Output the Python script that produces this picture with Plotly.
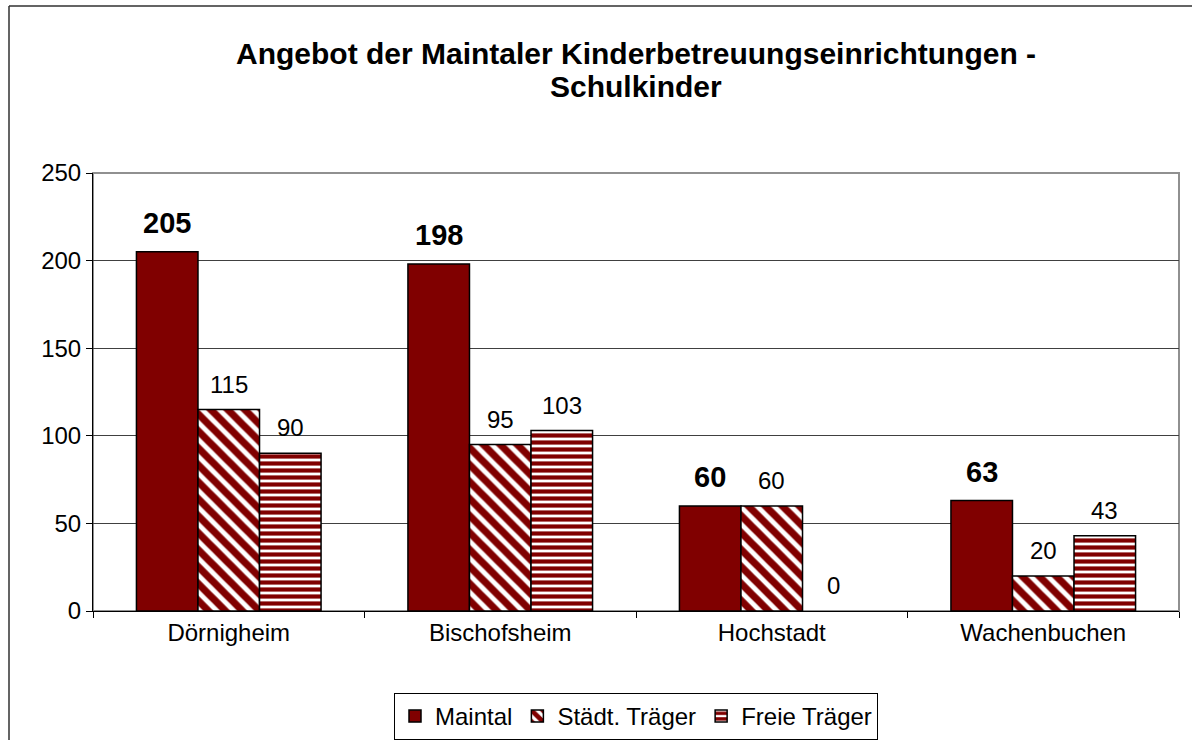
import plotly.graph_objects as go

categories = ["Dörnigheim", "Bischofsheim", "Hochstadt", "Wachenbuchen"]
maintal = [205, 198, 60, 63]
staedt = [115, 95, 60, 20]
freie = [90, 103, 0, 43]
series_names = ["Maintal", "Städt. Träger", "Freie Träger"]
y_ticks = [0, 50, 100, 150, 200, 250]
title_lines = ["Angebot der Maintaler Kinderbetreuungseinrichtungen -", "Schulkinder"]

DARK = "#800000"
FONT = "Liberation Sans, Arial, sans-serif"
BARGAP = 0.32

# plot geometry in pixels
L, R, T, B = 93, 1179, 173, 611
W, H = R - L, B - T


def px(xp):
    return (xp - L) / W


def py(yp):
    return (B - yp) / H


def outline(vals):
    return [1.5 if v > 0 else 0 for v in vals]


fig = go.Figure()
fig.add_trace(go.Bar(
    name=series_names[0], x=categories, y=maintal,
    marker=dict(color=DARK, line=dict(color="#000000", width=outline(maintal))),
))
fig.add_trace(go.Bar(
    name=series_names[1], x=categories, y=staedt,
    marker=dict(color="#ffffff", line=dict(color="#000000", width=outline(staedt)),
                pattern=dict(shape="\\", fgcolor=DARK, fgopacity=1,
                             size=12, solidity=0.6, fillmode="overlay")),
))
fig.add_trace(go.Bar(
    name=series_names[2], x=categories, y=freie,
    marker=dict(color="#ffffff", line=dict(color="#000000", width=outline(freie)),
                pattern=dict(shape="-", fgcolor=DARK, fgopacity=1,
                             size=7, solidity=0.6, fillmode="overlay")),
))

# value labels
w = (1 - BARGAP) / 3
annotations = []
for j, vals in enumerate([maintal, staedt, freie]):
    for i, v in enumerate(vals):
        annotations.append(dict(
            x=i + (j - 1) * w, y=v, xref="x", yref="y",
            text=f"<b>{v}</b>" if j == 0 else str(v),
            showarrow=False, yanchor="bottom", yshift=11 if j == 0 else 10,
            font=dict(family=FONT, size=29 if j == 0 else 24, color="#000000"),
        ))

# title as two lines (tighter line spacing)
for line, ypx in zip(title_lines, [53, 87]):
    annotations.append(dict(
        x=0.5, xref="paper", xanchor="center",
        y=py(ypx), yref="paper", yanchor="middle",
        text=f"<b>{line}</b>", showarrow=False,
        font=dict(family=FONT, size=30, color="#000000"),
    ))

shapes = [
    dict(type="line", xref="paper", yref="paper", x0=px(9), x1=px(1200), y0=py(6), y1=py(6),
         line=dict(color="#303030", width=1.5)),
    dict(type="line", xref="paper", yref="paper", x0=px(9), x1=px(9), y0=py(6), y1=py(745),
         line=dict(color="#303030", width=1.5)),
    dict(type="rect", xref="paper", yref="paper", x0=0, x1=1, y0=0, y1=1,
         line=dict(color="#909090", width=2), layer="below"),
]

fig.update_layout(
    width=1192, height=740,
    margin=dict(l=L, r=1192 - R, t=T, b=740 - B, autoexpand=False),
    paper_bgcolor="#ffffff", plot_bgcolor="#ffffff",
    barmode="group", bargap=BARGAP, bargroupgap=0,
    font=dict(family=FONT, size=24, color="#000000"),
    showlegend=True,
    legend=dict(orientation="h", x=0.5, xanchor="center", xref="paper",
                y=py(693), yref="paper", yanchor="top",
                bordercolor="#000000", borderwidth=1, bgcolor="#ffffff",
                font=dict(family=FONT, size=24), itemwidth=30,
                traceorder="normal"),
    annotations=annotations,
    shapes=shapes,
    xaxis=dict(type="category", tickson="boundaries", ticks="outside", ticklen=6,
               tickcolor="#000000", showline=True, linecolor="#000000", linewidth=1,
               mirror=False, showgrid=False, automargin=False,
               tickfont=dict(size=24, family=FONT)),
    yaxis=dict(range=[0, 250], tickvals=y_ticks, ticks="outside", ticklen=6,
               tickcolor="#000000", showline=True, linecolor="#000000", linewidth=1,
               showgrid=True, gridcolor="#404040", gridwidth=1, zeroline=False,
               automargin=False, tickfont=dict(size=24, family=FONT)),
)

fig.write_html("out.html", config={"displayModeBar": False},
               post_script="document.body.style.margin='0px';")
